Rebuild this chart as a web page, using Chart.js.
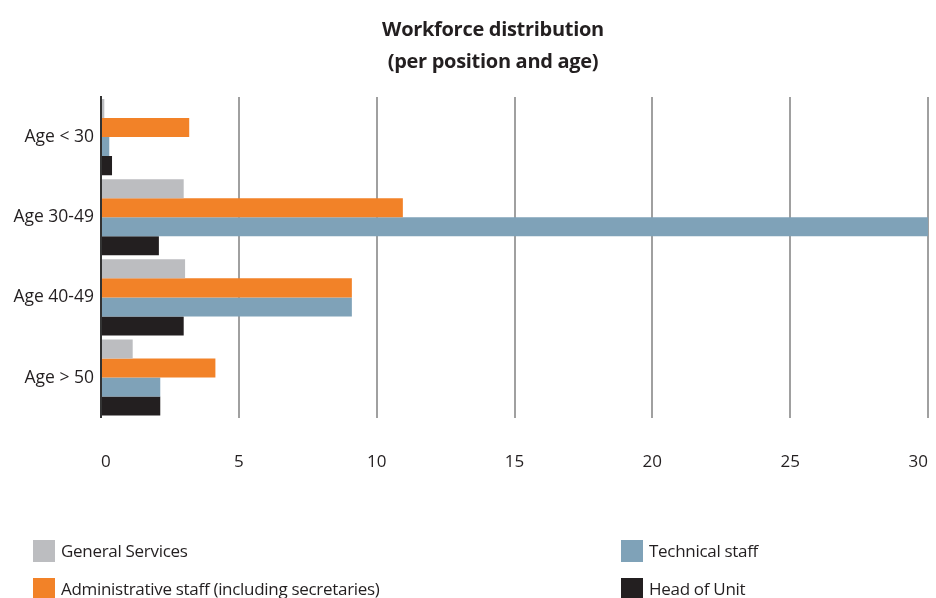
<!DOCTYPE html>
<html lang="en">
<head>
  <meta charset="UTF-8" />
  <title>Workforce distribution</title>
  <script src="https://cdn.jsdelivr.net/npm/chart.js"></script>
  <style>
    html, body { margin: 0; padding: 0; background: #fff; }
    body { font-family: 'Open Sans', 'Noto Sans', sans-serif; color: #231f20; }
    .wrap { position: relative; width: 936px; height: 598px; overflow: hidden; }
    canvas { display: block; }
    .title {
      position: absolute; left: 343px; width: 300px; top: 13px;
      text-align: center; font-weight: bold; font-size: 20px; line-height: 32px;
      white-space: nowrap; letter-spacing: -0.3px;
    }
    .legend { position: absolute; left: 0; top: 0; font-size: 17px; letter-spacing: -0.3px; }
    .legend .item { position: absolute; display: flex; align-items: center; white-space: nowrap; }
    .legend .box { width: 22px; height: 22px; margin-right: 6px; }
  </style>
</head>
<body>
  <div class="wrap">
    <canvas id="chart" width="936" height="598"></canvas>
    <div class="title">Workforce distribution<br>(per position and age)</div>
    <div class="legend" id="legend"></div>
  </div>

  <script>
    // data
    const categories = ['Age < 30', 'Age 30-49', 'Age 40-49', 'Age > 50'];
    const generalServices = [0.12, 3.0, 3.05, 1.15];
    const adminStaff = [3.2, 10.95, 9.1, 4.15];
    const technicalStaff = [0.3, 30, 9.1, 2.15];
    const headOfUnit = [0.4, 2.1, 3.0, 2.15];
    const seriesNames = ['General Services', 'Administrative staff (including secretaries)', 'Technical staff', 'Head of Unit'];
    const seriesColors = ['#bcbdc0', '#f28228', '#7fa2b8', '#231f20'];
    const xTicks = [0, 5, 10, 15, 20, 25, 30];

    const seriesData = [generalServices, adminStaff, technicalStaff, headOfUnit];

    const ctx = document.getElementById('chart').getContext('2d');
    const chart = new Chart(ctx, {
      type: 'bar',
      data: {
        labels: categories,
        datasets: seriesData.map((d, i) => ({
          label: seriesNames[i],
          data: d,
          backgroundColor: seriesColors[i],
          borderWidth: 0,
          categoryPercentage: 0.95,
          barPercentage: 1
        }))
      },
      options: {
        indexAxis: 'y',
        responsive: false,
        animation: false,
        layout: { padding: { top: 97, bottom: 92, left: 0, right: 8 } },
        plugins: {
          legend: { display: false },
          title: { display: false },
          tooltip: { enabled: false }
        },
        scales: {
          x: {
            min: 0,
            max: 30,
            afterBuildTicks: scale => { scale.ticks = xTicks.map(v => ({ value: v })); },
            afterFit: scale => { scale.paddingLeft = 0; scale.paddingRight = 0; },
            grid: {
              color: ctx => ctx.tick && ctx.tick.value === 0 ? 'rgba(0,0,0,0)' : '#a0a0a0',
              lineWidth: 2,
              drawTicks: false
            },
            border: { display: false },
            ticks: {
              color: '#231f20',
              padding: 34,
              align: 'inner',
              font: { family: "'Open Sans', sans-serif", size: 17 }
            }
          },
          y: {
            afterFit: scale => { scale.width = 101; },
            grid: { display: false, drawTicks: false },
            border: { display: true, color: '#333', width: 2 },
            ticks: {
              color: '#231f20',
              padding: 7,
              font: { family: "'Open Sans', sans-serif", size: 17.5 }
            }
          }
        }
      }
    });

    // legend in two columns, built from the datasets
    const legendPos = [[33, 539], [33, 577], [621, 539], [621, 577]];
    const legendEl = document.getElementById('legend');
    chart.data.datasets.forEach((ds, i) => {
      const item = document.createElement('div');
      item.className = 'item';
      item.style.left = legendPos[i][0] + 'px';
      item.style.top = legendPos[i][1] + 'px';
      item.innerHTML = '<span class="box" style="background:' + ds.backgroundColor + '"></span>' + ds.label;
      legendEl.appendChild(item);
    });
  </script>
</body>
</html>
